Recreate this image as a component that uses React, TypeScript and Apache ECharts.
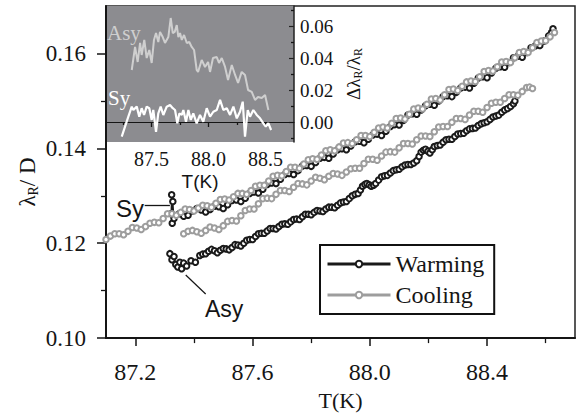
import React, { useEffect, useRef } from 'react';
import * as echarts from 'echarts';

// ---- main panel data: [T (K), lambda_R / D] ----
const warmingSy: [number, number][] = [
  [87.322, 0.1262], [87.324, 0.1302], [87.326, 0.1242], [87.328, 0.1288], [87.332, 0.1252],
  [87.35, 0.1262], [87.365, 0.1257], [87.38, 0.1259], [87.395, 0.1268], [87.41, 0.1273],
  [87.425, 0.1270], [87.44, 0.1266], [87.455, 0.1271], [87.47, 0.1278], [87.485, 0.1277],
  [87.50, 0.1273], [87.515, 0.1281], [87.53, 0.1290], [87.545, 0.1291], [87.56, 0.1288],
  [87.575, 0.1295], [87.59, 0.1305], [87.605, 0.1308], [87.62, 0.1306], [87.635, 0.1314],
  [87.65, 0.1324], [87.665, 0.1327], [87.68, 0.1326], [87.695, 0.1335], [87.71, 0.1345],
  [87.725, 0.1347], [87.74, 0.1345], [87.755, 0.1353], [87.77, 0.1363], [87.785, 0.1364],
  [87.80, 0.1362], [87.815, 0.1370], [87.83, 0.1379], [87.845, 0.1381], [87.86, 0.1379],
  [87.875, 0.1388], [87.89, 0.1397], [87.905, 0.1399], [87.92, 0.1397], [87.935, 0.1405],
  [87.95, 0.1414], [87.965, 0.1415], [87.98, 0.1412], [87.995, 0.1419], [88.01, 0.1428],
  [88.025, 0.1430], [88.04, 0.1427], [88.055, 0.1436], [88.07, 0.1446], [88.085, 0.1450],
  [88.10, 0.1449], [88.115, 0.1459], [88.13, 0.1470], [88.145, 0.1473], [88.16, 0.1472],
  [88.175, 0.1481], [88.19, 0.1490], [88.205, 0.1493], [88.22, 0.1491], [88.235, 0.1500],
  [88.25, 0.1509], [88.265, 0.1511], [88.28, 0.1509], [88.295, 0.1518], [88.31, 0.1527],
  [88.325, 0.1529], [88.34, 0.1527], [88.355, 0.1537], [88.37, 0.1548], [88.385, 0.1551],
  [88.40, 0.1549], [88.415, 0.1559], [88.43, 0.1569], [88.445, 0.1572], [88.46, 0.1571],
  [88.475, 0.1581], [88.49, 0.1591], [88.505, 0.1594], [88.52, 0.1592], [88.535, 0.1602],
  [88.55, 0.1612], [88.565, 0.1616], [88.58, 0.1617], [88.595, 0.1626], [88.61, 0.1637],
  [88.62, 0.1644], [88.625, 0.1652]
];

const warmingAsy: [number, number][] = [
  [87.318, 0.1178], [87.325, 0.1165], [87.332, 0.1172], [87.338, 0.1155], [87.345, 0.1150],
  [87.352, 0.1160], [87.358, 0.1146], [87.365, 0.1158], [87.375, 0.1152], [87.39, 0.1163],
  [87.405, 0.1160], [87.42, 0.1174], [87.43, 0.1177], [87.44, 0.1178], [87.45, 0.1183],
  [87.46, 0.1187], [87.47, 0.1184], [87.48, 0.1180], [87.49, 0.1185], [87.50, 0.1189],
  [87.51, 0.1188], [87.52, 0.1186], [87.53, 0.1191], [87.54, 0.1197], [87.55, 0.1196],
  [87.56, 0.1194], [87.57, 0.1200], [87.58, 0.1206], [87.59, 0.1208], [87.60, 0.1208],
  [87.61, 0.1214], [87.62, 0.1220], [87.63, 0.1221], [87.64, 0.1221], [87.65, 0.1226],
  [87.66, 0.1231], [87.67, 0.1231], [87.68, 0.1230], [87.69, 0.1235], [87.70, 0.1240],
  [87.71, 0.1241], [87.72, 0.1240], [87.73, 0.1245], [87.74, 0.1250], [87.75, 0.1251],
  [87.76, 0.1250], [87.77, 0.1256], [87.78, 0.1261], [87.79, 0.1261], [87.80, 0.1260],
  [87.81, 0.1265], [87.82, 0.1269], [87.83, 0.1268], [87.84, 0.1267], [87.85, 0.1272],
  [87.86, 0.1276], [87.87, 0.1276], [87.88, 0.1275], [87.89, 0.1280], [87.90, 0.1285],
  [87.91, 0.1287], [87.92, 0.1288], [87.93, 0.1294], [87.94, 0.1300], [87.95, 0.1303],
  [87.96, 0.1305], [87.968, 0.1312], [87.975, 0.1320], [87.983, 0.1324], [87.99, 0.1326],
  [87.998, 0.1323], [88.005, 0.1320], [88.013, 0.1322], [88.02, 0.1326], [88.03, 0.1333],
  [88.04, 0.1340], [88.05, 0.1342], [88.06, 0.1343], [88.07, 0.1348], [88.08, 0.1353],
  [88.09, 0.1355], [88.10, 0.1356], [88.11, 0.1361], [88.12, 0.1365], [88.13, 0.1366],
  [88.14, 0.1366], [88.15, 0.1369], [88.16, 0.1374], [88.168, 0.1383], [88.175, 0.1392],
  [88.183, 0.1396], [88.19, 0.1398], [88.198, 0.1394], [88.205, 0.1390], [88.213, 0.1397],
  [88.22, 0.1404], [88.23, 0.1406], [88.24, 0.1407], [88.25, 0.1413], [88.26, 0.1418],
  [88.27, 0.1419], [88.28, 0.1419], [88.29, 0.1425], [88.30, 0.1430], [88.31, 0.1431],
  [88.32, 0.1432], [88.33, 0.1437], [88.34, 0.1441], [88.35, 0.1442], [88.36, 0.1443],
  [88.37, 0.1448], [88.38, 0.1452], [88.39, 0.1454], [88.40, 0.1456], [88.41, 0.1461],
  [88.42, 0.1466], [88.43, 0.1468], [88.44, 0.1470], [88.45, 0.1476], [88.46, 0.1481],
  [88.47, 0.1484], [88.48, 0.1488], [88.49, 0.1494], [88.495, 0.1500], [88.50, 0.1511]
];

const coolingSy: [number, number][] = [
  [87.10, 0.1208], [87.115, 0.1215], [87.13, 0.1220], [87.145, 0.1220], [87.16, 0.1218],
  [87.175, 0.1225], [87.19, 0.1233], [87.205, 0.1232], [87.22, 0.1229], [87.235, 0.1235],
  [87.25, 0.1242], [87.265, 0.1244], [87.28, 0.1243], [87.295, 0.1252], [87.31, 0.1262],
  [87.325, 0.1262], [87.34, 0.1259], [87.355, 0.1265], [87.37, 0.1272], [87.385, 0.1271],
  [87.40, 0.1268], [87.415, 0.1274], [87.43, 0.1280], [87.445, 0.1279], [87.46, 0.1276],
  [87.475, 0.1284], [87.49, 0.1292], [87.505, 0.1293], [87.52, 0.1291], [87.535, 0.1298],
  [87.55, 0.1305], [87.565, 0.1305], [87.58, 0.1303], [87.595, 0.1311], [87.61, 0.1320],
  [87.625, 0.1322], [87.64, 0.1322], [87.655, 0.1331], [87.67, 0.1341], [87.685, 0.1343],
  [87.70, 0.1342], [87.715, 0.1351], [87.73, 0.1360], [87.745, 0.1360], [87.76, 0.1358],
  [87.775, 0.1367], [87.79, 0.1376], [87.805, 0.1378], [87.82, 0.1377], [87.835, 0.1386],
  [87.85, 0.1395], [87.865, 0.1397], [87.88, 0.1395], [87.895, 0.1403], [87.91, 0.1411],
  [87.925, 0.1412], [87.94, 0.1410], [87.955, 0.1418], [87.97, 0.1427], [87.985, 0.1427],
  [88.00, 0.1425], [88.015, 0.1434], [88.03, 0.1443], [88.045, 0.1445], [88.06, 0.1443],
  [88.075, 0.1453], [88.09, 0.1463], [88.105, 0.1464], [88.12, 0.1462], [88.135, 0.1472],
  [88.15, 0.1483], [88.165, 0.1485], [88.18, 0.1483], [88.195, 0.1493], [88.21, 0.1504],
  [88.225, 0.1505], [88.24, 0.1502], [88.255, 0.1513], [88.27, 0.1524], [88.285, 0.1525],
  [88.30, 0.1522], [88.315, 0.1531], [88.33, 0.1540], [88.345, 0.1542], [88.36, 0.1541],
  [88.375, 0.1551], [88.39, 0.1562], [88.405, 0.1564], [88.42, 0.1563], [88.435, 0.1572],
  [88.45, 0.1582], [88.465, 0.1583], [88.48, 0.1581], [88.495, 0.1591], [88.51, 0.1602],
  [88.525, 0.1604], [88.54, 0.1602], [88.555, 0.1612], [88.57, 0.1623], [88.585, 0.1626],
  [88.60, 0.1627], [88.615, 0.1635], [88.63, 0.1644]
];

const coolingAsy: [number, number][] = [
  [87.365, 0.1220], [87.38, 0.1225], [87.395, 0.1227], [87.41, 0.1224], [87.425, 0.1221],
  [87.44, 0.1227], [87.455, 0.1234], [87.47, 0.1232], [87.485, 0.1229], [87.50, 0.1237],
  [87.515, 0.1246], [87.53, 0.1248], [87.545, 0.1247], [87.56, 0.1258], [87.575, 0.1269],
  [87.59, 0.1272], [87.605, 0.1272], [87.62, 0.1283], [87.635, 0.1294], [87.65, 0.1295],
  [87.665, 0.1294], [87.68, 0.1303], [87.695, 0.1311], [87.71, 0.1311], [87.725, 0.1309],
  [87.74, 0.1318], [87.755, 0.1326], [87.77, 0.1325], [87.785, 0.1323], [87.80, 0.1331],
  [87.815, 0.1339], [87.83, 0.1337], [87.845, 0.1334], [87.86, 0.1341], [87.875, 0.1347],
  [87.89, 0.1346], [87.905, 0.1343], [87.92, 0.1350], [87.935, 0.1357], [87.95, 0.1358],
  [87.965, 0.1358], [87.98, 0.1368], [87.995, 0.1377], [88.01, 0.1377], [88.025, 0.1375],
  [88.04, 0.1384], [88.055, 0.1392], [88.07, 0.1393], [88.085, 0.1392], [88.10, 0.1401],
  [88.115, 0.1410], [88.13, 0.1410], [88.145, 0.1409], [88.16, 0.1418], [88.175, 0.1426],
  [88.19, 0.1426], [88.205, 0.1425], [88.22, 0.1435], [88.235, 0.1445], [88.25, 0.1446],
  [88.265, 0.1446], [88.28, 0.1455], [88.295, 0.1463], [88.31, 0.1463], [88.325, 0.1461],
  [88.34, 0.1470], [88.355, 0.1478], [88.37, 0.1478], [88.385, 0.1476], [88.40, 0.1486],
  [88.415, 0.1495], [88.43, 0.1497], [88.445, 0.1497], [88.46, 0.1505], [88.475, 0.1513],
  [88.49, 0.1513], [88.505, 0.1512], [88.52, 0.1520], [88.535, 0.1528], [88.545, 0.1529],
  [88.555, 0.1526]
];

// ---- inset data: [T (K), delta lambda_R / lambda_R] ----
const insetAsy: [number, number][] = [
  [87.326, 0.0325], [87.355, 0.0469], [87.378, 0.0375], [87.399, 0.0494], [87.413, 0.0419],
  [87.436, 0.0513], [87.457, 0.0400], [87.480, 0.0450], [87.501, 0.0369], [87.521, 0.0513],
  [87.539, 0.0556], [87.559, 0.0500], [87.574, 0.0563], [87.598, 0.0531], [87.618, 0.0494],
  [87.647, 0.0531], [87.668, 0.0650], [87.686, 0.0556], [87.703, 0.0563], [87.721, 0.0606],
  [87.735, 0.0531], [87.750, 0.0556], [87.765, 0.0513], [87.785, 0.0544], [87.809, 0.0494],
  [87.831, 0.0500], [87.852, 0.0469], [87.873, 0.0450], [87.896, 0.0325], [87.908, 0.0313],
  [87.940, 0.0388], [87.969, 0.0344], [87.996, 0.0375], [88.013, 0.0313], [88.039, 0.0400],
  [88.072, 0.0406], [88.092, 0.0369], [88.116, 0.0400], [88.145, 0.0344], [88.171, 0.0263],
  [88.204, 0.0356], [88.233, 0.0294], [88.259, 0.0244], [88.291, 0.0313], [88.320, 0.0294],
  [88.347, 0.0200], [88.379, 0.0188], [88.408, 0.0138], [88.434, 0.0156], [88.467, 0.0150],
  [88.496, 0.0169], [88.525, 0.0075]
];

const insetSy: [number, number][] = [
  [87.238, -0.0092], [87.296, 0.0033], [87.326, 0.0096], [87.340, 0.0075], [87.370, 0.0096],
  [87.392, 0.0033], [87.413, 0.0086], [87.434, 0.0044], [87.457, 0.0096], [87.480, 0.0086],
  [87.501, 0.0013], [87.515, 0.0075], [87.539, -0.0061], [87.559, 0.0054], [87.580, 0.0096],
  [87.603, 0.0044], [87.633, 0.0096], [87.662, 0.0106], [87.686, 0.0086], [87.706, 0.0075],
  [87.726, -0.0008], [87.744, 0.0054], [87.765, 0.0044], [87.779, 0.0075], [87.802, 0.0002],
  [87.823, 0.0075], [87.844, 0.0013], [87.866, 0.0054], [87.896, -0.0008], [87.925, 0.0044],
  [87.954, 0.0002], [87.984, 0.0086], [88.013, 0.0033], [88.042, 0.0064], [88.072, 0.0075],
  [88.101, 0.0138], [88.130, 0.0075], [88.160, 0.0086], [88.189, 0.0044], [88.218, 0.0096],
  [88.248, 0.0023], [88.276, 0.0064], [88.300, 0.0127], [88.320, -0.0092], [88.344, 0.0075],
  [88.364, 0.0033], [88.393, 0.0075], [88.423, 0.0044], [88.452, 0.0023], [88.481, -0.0008],
  [88.502, -0.0029], [88.525, -0.0008], [88.549, -0.0050]
];

// ---- ticks ----
const mainXTicks = [87.2, 87.6, 88.0, 88.4];
const mainXMinor = [87.4, 87.8, 88.2, 88.6];
const mainYTicks = [0.1, 0.12, 0.14, 0.16];
const mainYMinor = [0.11, 0.13, 0.15];
const insetXTicks = [87.5, 88.0, 88.5];
const insetXMinor = [87.25, 87.75, 88.25];
const insetYTicks = [0, 0.02, 0.04, 0.06];
const insetYMinor = [-0.01, 0.01, 0.03, 0.05, 0.07];

// ---- annotation arrows (data coordinates) ----
const syArrow: [number, number][] = [[87.232, 0.1280], [87.318, 0.1280]];
const asyArrow: [number, number][] = [[87.44, 0.1093], [87.372, 0.1133]];

const serif = 'Liberation Serif';
const sans = 'Liberation Sans';
const ink = '#151515';
const grayLine = '#9d9d9d';

export default function App() {
  const ref = useRef<HTMLDivElement>(null);

  useEffect(() => {
    if (!ref.current) return;
    const chart = echarts.init(ref.current, undefined, { renderer: 'svg' });

    const minorTickAxis = (grid: number, min: number, max: number, vals: number[], len: number, inside = false) => ({
      gridIndex: grid,
      type: 'value',
      min,
      max,
      axisLine: { show: false },
      axisTick: { show: true, inside, customValues: vals, length: len, lineStyle: { color: ink, width: 1.3 } },
      axisLabel: { show: false },
      splitLine: { show: false },
    });

    const mainSeries = (name: string, data: [number, number][], color: string, z: number, bw: number, extra: any = {}) => ({
      name, type: 'line', xAxisIndex: 0, yAxisIndex: 0, data,
      symbol: 'emptyCircle', symbolSize: 5.5, lineStyle: { color, width: 1.2 },
      itemStyle: { color, borderWidth: bw }, z, ...extra,
    });

    const labelStyle = (size: number, margin: number, digits: number) => ({
      formatter: (v: number) => `{t|${v.toFixed(digits)}}`,
      fontFamily: serif, fontSize: size, color: ink, margin,
      rich: { t: { fontFamily: serif, fontSize: size, color: ink } },
    });

    const option: any = {
      animation: false,
      backgroundColor: '#ffffff',
      textStyle: { fontFamily: serif, color: ink },
      grid: [
        { left: 106, top: 6, right: 3, bottom: 70, show: true, borderColor: '#222', borderWidth: 1.5, backgroundColor: 'transparent' },
        { left: 106, top: 6, right: 284, bottom: 274, show: true, borderWidth: 0, backgroundColor: '#8c8c90' },
      ],
      xAxis: [
        {
          gridIndex: 0, type: 'value', position: 'bottom', min: 87.1, max: 88.7,
          axisLine: { show: true, lineStyle: { color: ink, width: 2 } },
          axisTick: { show: true, customValues: mainXTicks, length: 8, lineStyle: { color: ink, width: 1.5 } },
          axisLabel: { customValues: mainXTicks, ...labelStyle(24, 22, 1) },
          splitLine: { show: false },
          name: 'T(K)', nameLocation: 'middle', nameGap: 50,
          nameTextStyle: { fontFamily: serif, fontSize: 22, color: ink },
        },
        { ...minorTickAxis(0, 87.1, 88.7, mainXMinor, 5), position: 'bottom' },
        {
          gridIndex: 1, type: 'value', position: 'bottom', min: 87.1, max: 88.75,
          axisLine: { show: true, lineStyle: { color: ink, width: 1.2 } },
          axisTick: { show: true, customValues: insetXTicks, length: 5, lineStyle: { color: ink, width: 1.3 } },
          axisLabel: { customValues: insetXTicks, ...labelStyle(20, 7, 1) },
          splitLine: { show: false },
          name: 'T(K)', nameLocation: 'middle', nameGap: 30,
          nameTextStyle: { fontFamily: sans, fontSize: 19, color: ink },
        },
        { ...minorTickAxis(1, 87.1, 88.75, insetXMinor, 3), position: 'bottom' },
      ],
      yAxis: [
        {
          gridIndex: 0, type: 'value', position: 'left', min: 0.1, max: 0.17,
          axisLine: { show: true, lineStyle: { color: ink, width: 2 } },
          axisTick: { show: true, customValues: mainYTicks, length: 9, lineStyle: { color: ink, width: 1.5 } },
          axisLabel: { customValues: mainYTicks, ...labelStyle(23, 20, 2) },
          splitLine: { show: false },
        },
        { ...minorTickAxis(0, 0.1, 0.17, mainYMinor, 5), position: 'left' },
        {
          gridIndex: 1, type: 'value', position: 'right', min: -0.0125, max: 0.0725,
          axisLine: { show: true, lineStyle: { color: '#222', width: 1.5 } },
          axisTick: { show: true, inside: true, customValues: insetYTicks, length: 5, lineStyle: { color: '#222', width: 1.2 } },
          axisLabel: { customValues: insetYTicks, ...labelStyle(19, 6, 2) },
          splitLine: { show: false },
          name: '{a|Δλ}{s|R}{a|/λ}{s|R}', nameLocation: 'middle', nameGap: 48, nameRotate: 90,
          nameTextStyle: {
            fontFamily: serif, fontSize: 19, color: ink,
            rich: {
              a: { fontFamily: serif, fontSize: 19, color: ink, lineHeight: 22, verticalAlign: 'middle' },
              s: { fontFamily: serif, fontSize: 12, color: ink, lineHeight: 12, verticalAlign: 'bottom' },
            },
          },
        },
        { ...minorTickAxis(1, -0.0125, 0.0725, insetYMinor, 3, true), position: 'right' },
      ],
      legend: {
        data: ['Warming', 'Cooling'],
        orient: 'vertical',
        left: 320,
        top: 245,
        itemWidth: 63,
        itemHeight: 8,
        itemGap: 7,
        padding: [7, 10, 7, 6],
        borderColor: '#111',
        borderWidth: 2,
        backgroundColor: '#fff',
        textStyle: { fontFamily: serif, fontSize: 24, color: ink },
        lineStyle: { width: 3 },
        itemStyle: { borderWidth: 1 },
        selectedMode: false,
      },
      graphic: [
        {
          type: 'text', x: 27, y: 182, rotation: Math.PI / 2, z: 100,
          style: {
            text: '{a|λ}{s|R}{a|/ D}', align: 'center', verticalAlign: 'middle',
            fontFamily: serif, fontSize: 23, fill: ink,
            rich: {
              a: { fontFamily: serif, fontSize: 23, fill: ink, lineHeight: 26, verticalAlign: 'middle' },
              s: { fontFamily: serif, fontSize: 14, fill: ink, lineHeight: 14, verticalAlign: 'bottom' },
            },
          },
        },
        { type: 'text', x: 107, y: 33, z: 100, style: { text: 'Asy', fontFamily: serif, fontSize: 21, fill: '#cfcfcf', verticalAlign: 'middle', align: 'left' } },
        { type: 'text', x: 108, y: 98, z: 100, style: { text: 'Sy', fontFamily: serif, fontSize: 21, fill: '#ffffff', verticalAlign: 'middle', align: 'left' } },
        { type: 'text', x: 116, y: 208, z: 100, style: { text: 'Sy', fontFamily: sans, fontSize: 24, fill: ink, verticalAlign: 'middle', align: 'left' } },
        { type: 'text', x: 205, y: 309, z: 100, style: { text: 'Asy', fontFamily: sans, fontSize: 23, fill: ink, verticalAlign: 'middle', align: 'left' } },
      ],
      series: [
        mainSeries('Warming', warmingSy, '#1a1a1a', 3, 1.2, {
          markLine: {
            silent: true, symbol: ['none', 'arrow'], symbolSize: [0, 9], animation: false,
            lineStyle: { color: ink, width: 1.3, type: 'solid' }, label: { show: false },
            data: [[{ coord: syArrow[0] }, { coord: syArrow[1] }]],
          },
        }),
        mainSeries('Warming', warmingAsy, '#1a1a1a', 3, 1.2, {
          markLine: {
            silent: true, symbol: ['none', 'arrow'], symbolSize: [0, 9], animation: false,
            lineStyle: { color: ink, width: 1.2, type: 'solid' }, label: { show: false },
            data: [[{ coord: asyArrow[0] }, { coord: asyArrow[1] }]],
          },
        }),
        mainSeries('Cooling', coolingSy, grayLine, 4, 1.1),
        mainSeries('Cooling', coolingAsy, grayLine, 4, 1.1),
        {
          name: 'inset Asy', type: 'line', xAxisIndex: 2, yAxisIndex: 2, data: insetAsy,
          symbol: 'none', lineStyle: { color: '#cfcfcf', width: 2 }, z: 5,
        },
        {
          name: 'inset Sy', type: 'line', xAxisIndex: 2, yAxisIndex: 2, data: insetSy,
          symbol: 'none', lineStyle: { color: '#ffffff', width: 2.2 }, z: 5,
          markLine: {
            silent: true, symbol: 'none', animation: false,
            lineStyle: { color: ink, width: 1, type: 'solid' }, label: { show: false },
            data: [{ yAxis: 0 }],
          },
        },
      ],
    };

    chart.setOption(option);
    return () => chart.dispose();
  }, []);

  return <div ref={ref} style={{ position: 'fixed', left: 0, top: 0, width: 578, height: 416 }} />;
}
